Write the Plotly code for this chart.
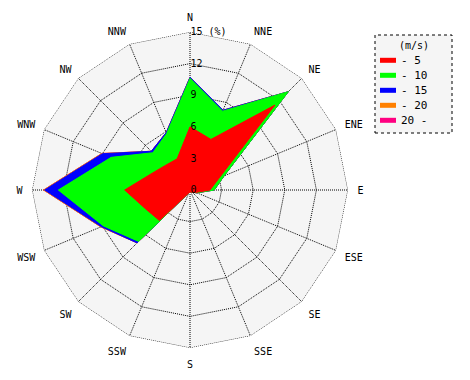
import numpy as np
import plotly.graph_objects as go

directions = ["N", "NNE", "NE", "ENE", "E", "ESE", "SE", "SSE",
              "S", "SSW", "SW", "WSW", "W", "WNW", "NW", "NNW"]

# frequency (%) per speed class (m/s)
speed_0_5 = [6.0, 5.2, 11.4, 3.0, 1.9, 0.6, 0.3, 0.2, 0.2, 0.3, 4.1, 4.6, 6.2, 4.0, 3.3, 3.2]
speed_5_10 = [4.6, 2.9, 1.8, 0.5, 0.4, 0.1, 0.0, 0.0, 0.0, 0.0, 2.8, 4.3, 6.3, 4.1, 1.7, 2.6]
speed_10_15 = [0.1, 0.1, 0.0, 0.0, 0.0, 0.0, 0.0, 0.0, 0.0, 0.0, 0.2, 0.2, 1.3, 0.9, 0.2, 0.1]
speed_15_20 = [0.0, 0.0, 0.0, 0.0, 0.0, 0.0, 0.0, 0.0, 0.0, 0.0, 0.0, 0.06, 0.1, 0.06, 0.0, 0.0]
speed_20_up = [0.0] * 16

legend_title = "(m/s)"
class_names = ["- 5", "- 10", "- 15", "- 20", "20 -"]
class_colors = ["#ff0000", "#00ff00", "#0000ff", "#ff8000", "#ff0080"]

radial_tickvals = [0, 3, 6, 9, 12, 15]
radial_ticktext = ["0", "3", "6", "9", "12", "15 (%)"]

series = [speed_0_5, speed_5_10, speed_10_15, speed_15_20, speed_20_up]
cum = np.cumsum(np.array(series), axis=0)

FONT = "DejaVu Sans Mono"
BG = "#f5f5f5"
DOT = "1px,1px"

fig = go.Figure()
# largest cumulative first so smaller classes are drawn on top
for i in reversed(range(len(series))):
    r = list(cum[i]) + [cum[i][0]]
    th = directions + [directions[0]]
    fig.add_trace(go.Scatterpolar(
        r=r, theta=th, mode="lines", fill="toself",
        fillcolor=class_colors[i],
        line=dict(color=class_colors[i], width=1),
        name=class_names[i], showlegend=False,
    ))

# dotted outer frame at the top radial tick
r_max = radial_tickvals[-1]
fig.add_trace(go.Scatterpolar(
    r=[r_max] * (len(directions) + 1), theta=directions + [directions[0]],
    mode="lines", line=dict(color="black", width=1, dash=DOT),
    hoverinfo="skip", showlegend=False, cliponaxis=False,
))

W, H = 470, 380
cx, cy, R = 190, 190, 158

# legend (drawn as a boxed key at the right)
box = dict(x0=375, x1=452, y0=35, y1=133)
shapes = [dict(
    type="rect", xref="paper", yref="paper",
    x0=box["x0"] / W, x1=box["x1"] / W, y0=1 - box["y1"] / H, y1=1 - box["y0"] / H,
    line=dict(color="black", width=1, dash="dot"),
    fillcolor=BG, layer="below",
)]
annotations = [dict(
    text=legend_title, xref="paper", yref="paper",
    x=414 / W, y=1 - 45 / H, xanchor="center", yanchor="middle",
    showarrow=False, font=dict(family=FONT, size=10, color="black"),
)]
for k, (name, col) in enumerate(zip(class_names, class_colors)):
    yc = 60.3 + 15 * k
    shapes.append(dict(
        type="rect", xref="paper", yref="paper",
        x0=380 / W, x1=396 / W, y0=1 - (yc + 2.5) / H, y1=1 - (yc - 2.5) / H,
        line=dict(width=0), fillcolor=col, layer="above",
    ))
    annotations.append(dict(
        text=name, xref="paper", yref="paper",
        x=399 / W, y=1 - yc / H, xanchor="left", yanchor="middle",
        showarrow=False, font=dict(family=FONT, size=11, color="black"),
    ))

fig.update_layout(
    width=W, height=H,
    margin=dict(l=0, r=0, t=0, b=0),
    paper_bgcolor="white",
    showlegend=False,
    font=dict(family=FONT, size=10, color="black"),
    polar=dict(
        domain=dict(x=[(cx - R) / W, (cx + R) / W], y=[(H - cy - R) / H, (H - cy + R) / H]),
        gridshape="linear",
        bgcolor=BG,
        radialaxis=dict(
            range=[0, 15], angle=90, tickangle=90,
            tickvals=radial_tickvals, ticktext=radial_ticktext,
            showline=False, ticks="",
            gridcolor="black", griddash=DOT, gridwidth=1,
            tickfont=dict(family=FONT, size=10),
        ),
        angularaxis=dict(
            type="category", categoryarray=directions,
            direction="clockwise", rotation=90,
            showline=False, ticks="outside", ticklen=7, tickcolor="rgba(0,0,0,0)",
            gridcolor="black", griddash=DOT, gridwidth=1,
            tickfont=dict(family=FONT, size=10),
        ),
    ),
    shapes=shapes,
    annotations=annotations,
)

fig.write_html("out.html", config={"displayModeBar": False},
               post_script="document.body.style.margin='0px';")
